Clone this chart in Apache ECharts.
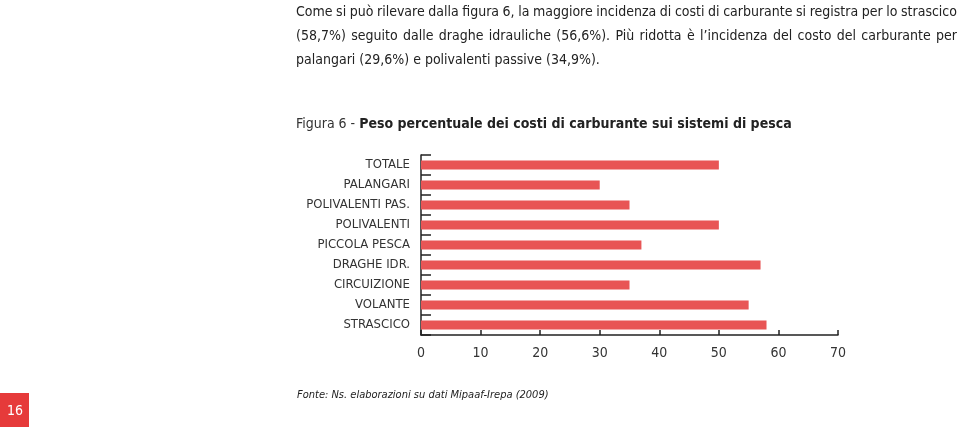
<!DOCTYPE html>
<html>
<head>
<meta charset="utf-8">
<script src="https://cdn.jsdelivr.net/npm/echarts@6/dist/echarts.min.js"></script>
<style>
html,body{margin:0;padding:0;background:#fff;}
#chart{width:960px;height:427px;}
</style>
</head>
<body>
<div id="chart"></div>
<script>
var categories = ['TOTALE','PALANGARI','POLIVALENTI PAS.','POLIVALENTI','PICCOLA PESCA','DRAGHE IDR.','CIRCUIZIONE','VOLANTE','STRASCICO'];
var values = [50, 30, 35, 50, 37, 57, 35, 55, 58];
var xTicks = {min: 0, max: 70, interval: 10};
var paragraphLines = [
  'Come si può rilevare dalla figura 6, la maggiore incidenza di costi di carburante si registra per lo strascico',
  '(58,7%) seguito dalle draghe idrauliche (56,6%). Più ridotta è l’incidenza del costo del carburante per',
  'palangari (29,6%) e polivalenti passive (34,9%).'
];
var titlePrefix = 'Figura 6 - ';
var titleMain = 'Peso percentuale dei costi di carburante sui sistemi di pesca';
var sourceText = 'Fonte: Ns. elaborazioni su dati Mipaaf-Irepa (2009)';
var pageNumber = '16';

var FONT = '"DejaVu Sans Condensed", "Noto Sans", sans-serif';
var chart = echarts.init(document.getElementById('chart'));

// justified paragraph layout
var pFont = '14px ' + FONT;
var cv = document.createElement('canvas').getContext('2d');
cv.font = pFont;
var pLeft = 296, pRight = 957, lineY = [12, 36, 60];
var graphics = [];
paragraphLines.forEach(function (line, i) {
  var justify = i < paragraphLines.length - 1;
  var words = line.split(' ');
  var spaceW = cv.measureText(' ').width;
  var gap = spaceW;
  if (justify) {
    var wsum = 0;
    words.forEach(function (w) { wsum += cv.measureText(w).width; });
    gap = (pRight - pLeft - wsum) / (words.length - 1);
  }
  var x = pLeft;
  words.forEach(function (w) {
    graphics.push({type:'text', x:x, y:lineY[i], style:{text:w, font:pFont, fill:'#222', verticalAlign:'middle'}});
    x += cv.measureText(w).width + gap;
  });
});
graphics.push({
  type:'text', x:296, y:124,
  style:{
    text:'{a|' + titlePrefix + '}{b|' + titleMain + '}',
    verticalAlign:'middle',
    rich:{
      a:{font:'14px ' + FONT, fill:'#333'},
      b:{font:'bold 14px ' + FONT, fill:'#222'}
    }
  }
});
graphics.push({type:'text', x:297, y:395, style:{text:sourceText, font:'italic 11px ' + FONT, fill:'#222', verticalAlign:'middle'}});
graphics.push({type:'rect', shape:{x:0, y:393, width:29, height:34}, style:{fill:'#e63a3a'}});
graphics.push({type:'text', x:15, y:411, style:{text:pageNumber, font:'14px ' + FONT, fill:'#fff', align:'center', verticalAlign:'middle'}});

chart.setOption({
  animation:false,
  grid:{left:421, top:155, width:417, height:180},
  xAxis:{
    type:'value', min:xTicks.min, max:xTicks.max, interval:xTicks.interval,
    splitLine:{show:false},
    axisLine:{show:true, lineStyle:{color:'#222', width:1.5}},
    axisTick:{show:true, inside:true, length:5, lineStyle:{color:'#222', width:1.5}},
    axisLabel:{fontSize:14, fontFamily:FONT, color:'#333', margin:11}
  },
  yAxis:{
    type:'category', data:categories, inverse:true,
    axisLine:{show:true, lineStyle:{color:'#222', width:1.5}},
    axisTick:{show:true, inside:true, length:10, lineStyle:{color:'#222', width:1.5}},
    axisLabel:{fontSize:13, fontFamily:FONT, color:'#333', margin:11}
  },
  series:[{
    type:'bar', data:values, barWidth:9,
    itemStyle:{color:'#e85555'}
  }],
  graphic:graphics
});
</script>
</body>
</html>
